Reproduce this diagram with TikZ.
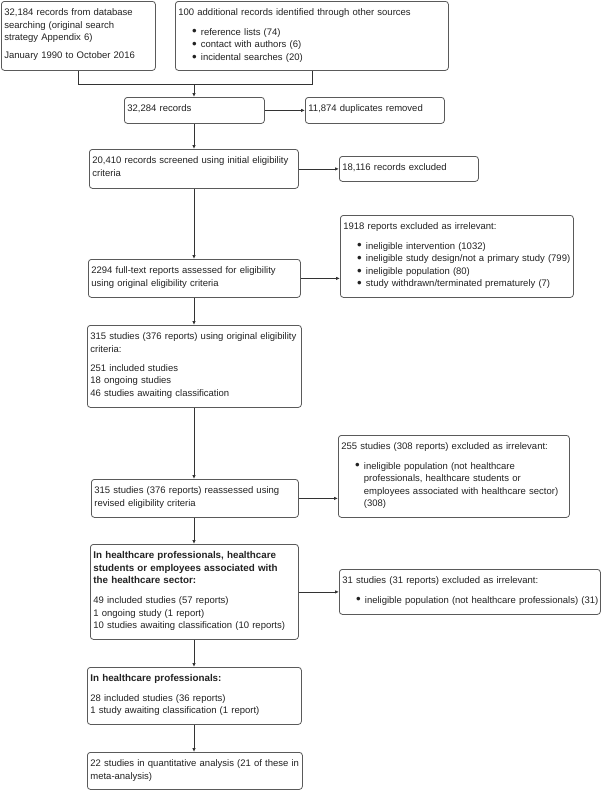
\documentclass[tikz,border=0pt]{standalone}
\usepackage{fontspec}
\setmainfont{Liberation Sans}
\usetikzlibrary{arrows.meta,calc}
\definecolor{boxline}{HTML}{5A5A5A}
\definecolor{conline}{HTML}{333333}
\definecolor{txt}{HTML}{222222}
\newcommand{\bul}{\hspace*{16pt}\makebox[0pt]{\raisebox{-0.9pt}{\scalebox{1.4}{\textbullet}}}\hspace*{6.5pt}}
\newcommand{\ind}{\hspace*{22.5pt}}
\newcommand{\hb}[1]{{\fontsize{9.8}{12.6}\selectfont\bfseries #1}}
\newcommand{\bx}[6]{%
  \pgfmathsetmacro{\bw}{#4-#2-6}%
  \pgfmathsetmacro{\bd}{#5-#3-17.5}%
  \node[box, text width=\bw pt, text depth=\bd pt] (#1) at (#2,#3)
    {\begin{tabular}[t]{@{}l@{}}#6\end{tabular}};}
\begin{document}
\begin{tikzpicture}[x=1pt,y=-1pt,
  box/.style={draw=boxline, line width=0.8pt, rounded corners=3pt, anchor=north west,
    inner xsep=3pt, inner ysep=3.5pt, text height=10.5pt, align=left, text=txt,
    font=\fontsize{9.5}{12.6}\selectfont},
  conn/.style={draw=conline, line width=0.8pt},
  arr/.style={conn, -{Latex[length=4pt,width=3.5pt]}}]
\useasboundingbox (0,0) rectangle (602,790);
\bx{A}{1}{1}{155}{70}{32,184 records from database\\ searching (original search\\ strategy Appendix 6)\\[5.5pt] January 1990 to October 2016}
\bx{B}{175}{1}{448}{70}{100 additional records identified through other sources\\[7pt] \bul reference lists (74)\\ \bul contact with authors (6)\\ \bul incidental searches (20)}
\bx{C}{124}{97}{264}{123}{32,284 records}
\bx{D}{305}{97}{444}{123}{11,874 duplicates removed}
\bx{E}{89}{149}{298}{188}{20,410 records screened using initial eligibility\\ criteria}
\bx{F}{339}{156}{478}{181}{18,116 records excluded}
\bx{G}{340}{215}{573}{297}{1918 reports excluded as irrelevant:\\[7pt] \bul ineligible intervention (1032)\\ \bul ineligible study design/not a primary study (799)\\ \bul ineligible population (80)\\ \bul study withdrawn/terminated prematurely (7)}
\bx{H}{88}{259}{300}{297}{2294 full-text reports assessed for eligibility\\ using original eligibility criteria}
\bx{I}{87}{325}{301}{407}{315 studies (376 reports) using original eligibility\\ criteria:\\[6.5pt] 251 included studies\\ 18 ongoing studies\\ 46 studies awaiting classification}
\bx{J}{91}{479}{298}{517}{315 studies (376 reports) reassessed using\\ revised eligibility criteria}
\bx{K}{338}{435}{569}{517}{255 studies (308 reports) excluded as irrelevant:\\[7pt] \bul ineligible population (not healthcare\\ \ind professionals, healthcare students or\\ \ind employees associated with healthcare sector)\\ \ind (308)}
\bx{L}{90}{544}{298}{639}{\hb{In healthcare professionals, healthcare}\\ \hb{students or employees associated with}\\ \hb{the healthcare sector:}\\[7.5pt] 49 included studies (57 reports)\\ 1 ongoing study (1 report)\\ 10 studies awaiting classification (10 reports)}
\bx{M}{339}{569}{600}{614}{31 studies (31 reports) excluded as irrelevant:\\[7pt] \bul ineligible population (not healthcare professionals) (31)}
\bx{N}{87}{667}{301}{724}{\hb{In healthcare professionals:}\\[7pt] 28 included studies (36 reports)\\ 1 study awaiting classification (1 report)}
\bx{O}{87}{752}{302}{789}{22 studies in quantitative analysis (21 of these in\\ meta-analysis)}
\coordinate (mj) at (194,84);
\coordinate (As) at ($(A.south west)!0.5!(A.south east)$);
\coordinate (Bs) at ($(B.south west)!0.5!(B.south east)$);
\draw[conn] (As) -- (As |- mj) -- (Bs |- mj) -- (Bs);
\draw[arr] (mj) -- (mj |- C.north);
\draw[arr] (C.south -| mj) -- (E.north -| mj);
\draw[arr] (E.south -| mj) -- (H.north -| mj);
\draw[arr] (H.south -| mj) -- (I.north -| mj);
\draw[arr] (I.south -| mj) -- (J.north -| mj);
\draw[arr] (J.south -| mj) -- (L.north -| mj);
\draw[arr] (L.south -| mj) -- (N.north -| mj);
\draw[arr] (N.south -| mj) -- (O.north -| mj);
\draw[arr] (C.east) -- (C.east -| D.west);
\draw[arr] (E.east) -- (E.east -| F.west);
\draw[arr] (H.east) -- (H.east -| G.west);
\draw[arr] (J.east) -- (J.east -| K.west);
\draw[arr] (L.east) -- (L.east -| M.west);
\end{tikzpicture}
\end{document}
